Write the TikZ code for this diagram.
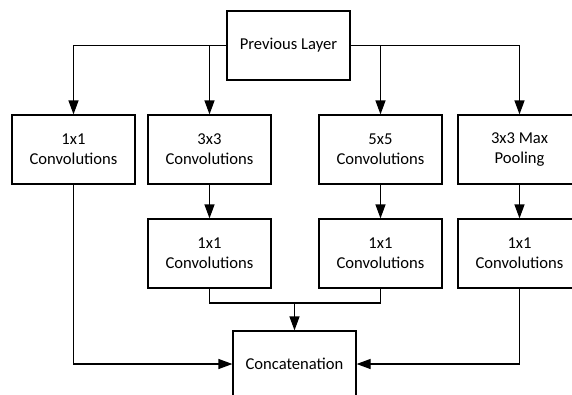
\documentclass[tikz,border=0pt]{standalone}
\usepackage{fontspec}
\setmainfont{Carlito}
\usetikzlibrary{arrows.meta}
\begin{document}
\begin{tikzpicture}[x=1pt,y=-1pt,
  box/.style={draw, line width=1.2pt, minimum width=123pt, minimum height=69pt,
    inner sep=0pt, align=center, font=\fontsize{16.6}{20}\selectfont},
  link/.style={line width=1.2pt},
  arr/.style={link, -{Triangle[length=14pt,width=10pt]}}]
\useasboundingbox (0,0) rectangle (572,394);
\clip (0,0) rectangle (572,394);

% inputs and first stage
\node[box] (prev) at (288.5,45.5) {Previous Layer};
\node[box] (c1)  at (73.5,149.5)  {1x1\\Convolutions};
\node[box] (c3)  at (209.5,149.5) {3x3\\Convolutions};
\node[box] (c5)  at (380.5,149.5) {5x5\\Convolutions};
\node[box] (mp)  at (519.5,149.5) {3x3 Max\\Pooling};

% second stage
\node[box] (r3) at (209.5,253.5) {1x1\\Convolutions};
\node[box] (r5) at (380.5,253.5) {1x1\\Convolutions};
\node[box] (rp) at (519.5,253.5) {1x1\\Convolutions};

% output
\node[box, minimum height=66pt] (cat) at (294.5,364) {Concatenation};

% fan-out from the previous layer
\draw[arr] (prev.west) -| (c1.north);
\coordinate (s3) at (c3.north |- prev.west);
\draw[arr] (s3) -- (c3.north);
\draw[arr] (prev.east) -| (mp.north);
\coordinate (s5) at (c5.north |- prev.east);
\draw[arr] (s5) -- (c5.north);

% reductions
\draw[arr] (c3.south) -- (r3.north);
\draw[arr] (c5.south) -- (r5.north);
\draw[arr] (mp.south) -- (rp.north);

% merge into concatenation
\coordinate (m3) at (209.5,303);
\coordinate (m5) at (380.5,303);
\coordinate (mc) at (cat.north |- m3);
\draw[link] (r3.south) -- (m3) -- (m5) -- (r5.south);
\draw[arr] (mc) -- (cat.north);
\draw[arr] (c1.south) |- (cat.west);
\draw[arr] (rp.south) |- (cat.east);
\end{tikzpicture}
\end{document}
